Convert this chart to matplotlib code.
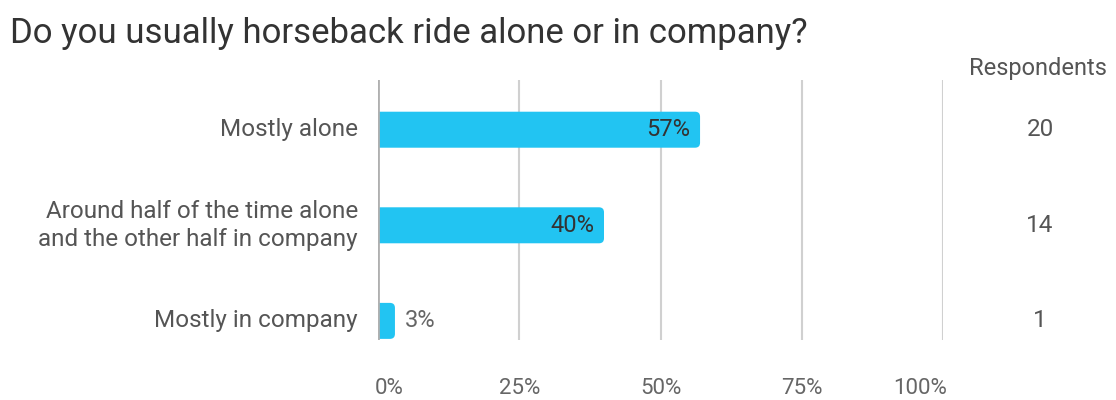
import matplotlib.pyplot as plt
from matplotlib.patches import FancyBboxPatch
from matplotlib.transforms import blended_transform_factory

plt.rcParams['font.family'] = ['Roboto', 'DejaVu Sans']

# Survey answers
answers = ['Mostly alone',
           'Around half of the time alone\nand the other half in company',
           'Mostly in company']
shares = [0.57, 0.40, 0.03]
respondents = [20, 14, 1]
ticks = [0, 0.25, 0.5, 0.75, 1.0]
tick_labels = ['0%', '25%', '50%', '75%', '100%']

bar_color = '#22C4F2'

fig = plt.figure(figsize=(11.16, 4), dpi=100)
ax = fig.add_axes([378 / 1116, 60 / 400, 565 / 1116, 260 / 400])
ax.set_xlim(0, 1)
ax.set_ylim(2.2, -0.52)

# vertical gridlines
for t in ticks[1:]:
    ax.axvline(t, color='#d0d0d0', lw=1.5, zorder=0)
ax.axvline(0, color='#b0b0b0', lw=2, zorder=3)

# rounded bars
px_x = 565 / 1.0
px_y = 260 / 2.72
bar_h = 36 / px_y
r = 5 / px_x
for i, v in enumerate(shares):
    box = FancyBboxPatch((-0.02, i - bar_h / 2), v + 0.02, bar_h,
                         boxstyle=f'round,pad=0,rounding_size={r}',
                         mutation_aspect=px_x / px_y,
                         fc=bar_color, ec='none', zorder=2)
    ax.add_patch(box)
    if v > 0.1:
        ax.text(v - 10 / px_x, i, f'{v:.0%}', ha='right', va='center',
                fontsize=17, color='#333333', zorder=4)
    else:
        ax.text(v + 10 / px_x, i, f'{v:.0%}', ha='left', va='center',
                fontsize=17, color='#666666', zorder=4)

for s in ax.spines.values():
    s.set_visible(False)
ax.set_xticks([])
ax.set_yticks([])

# category labels
for i, a in enumerate(answers):
    ax.text(-20 / px_x, i, a, ha='right', va='center', fontsize=17.5,
            color='#555555', linespacing=1.25)

# percent axis labels below; the end labels are kept inside the plot width
for t, lab in zip(ticks, tick_labels):
    if t == ticks[0]:
        x, ha = t - 3 / px_x, 'left'
    elif t == ticks[-1]:
        x, ha = t + 4 / px_x, 'right'
    else:
        x, ha = t, 'center'
    ax.text(x, 2.2 + 48 / px_y, lab, ha=ha, va='center', fontsize=16,
            color='#666666', clip_on=False)

# respondents column
fig.text(1038 / 1116, 1 - 68 / 400, 'Respondents', ha='center', va='center',
         fontsize=17, color='#555555')
col = blended_transform_factory(fig.transFigure, ax.transData)
for i, n in enumerate(respondents):
    ax.text(1040 / 1116, i, str(n), ha='center', va='center', fontsize=17.5,
            color='#555555', transform=col)

fig.text(10 / 1116, 1 - 33 / 400, 'Do you usually horseback ride alone or in company?',
         ha='left', va='center', fontsize=25, color='#333333')

fig.savefig('out.png', dpi=100)
